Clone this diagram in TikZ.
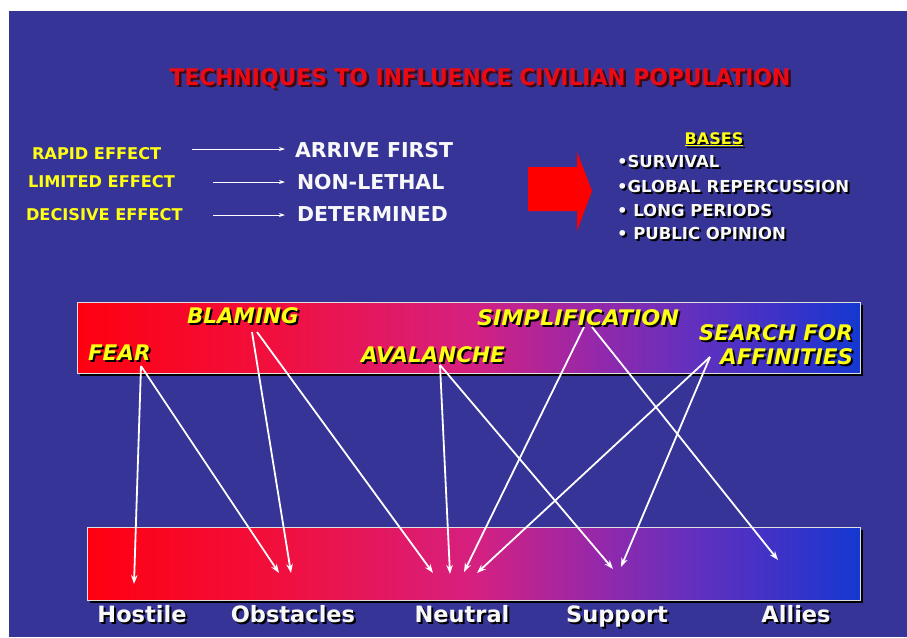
\documentclass[tikz,border=0pt]{standalone}
\usepackage{fontspec}
\setmainfont{DejaVu Sans}
\newfontfamily\condfont{DejaVu Sans Condensed}
\usetikzlibrary{arrows.meta}
\definecolor{bg}{RGB}{54,52,150}
\definecolor{ylw}{RGB}{255,255,20}
\definecolor{ttl}{RGB}{235,10,20}
\definecolor{ttlsh}{RGB}{60,10,20}
\definecolor{wht}{RGB}{248,248,248}
\definecolor{g0}{RGB}{255,0,16}
\definecolor{g1}{RGB}{240,16,64}
\definecolor{g2}{RGB}{214,32,128}
\definecolor{g3}{RGB}{150,40,170}
\definecolor{g4}{RGB}{100,48,190}
\definecolor{g5}{RGB}{60,50,200}
\definecolor{g6}{RGB}{20,56,210}
\pgfdeclarehorizontalshading{techgrad}{100bp}{color(0bp)=(g0); color(25bp)=(g0); color(38bp)=(g1); color(50bp)=(g2); color(58bp)=(g3); color(64bp)=(g4); color(70bp)=(g5); color(75bp)=(g6); color(100bp)=(g6)}
\newcommand\stxt[5]{%
  \node[#3,text=black,shift={(#4)}] (#1s) at (#2) {#5};
  \node[#3] (#1) at (#2) {#5};}
\tikzset{
  every node/.style={inner sep=0pt, outer sep=0pt},
  effect/.style={font=\bfseries\fontsize{16.2}{16}\selectfont, text=ylw, anchor=base west},
  result/.style={font=\bfseries\fontsize{20.5}{20}\selectfont, text=wht, anchor=base west},
  basis/.style={font=\bfseries\fontsize{16.5}{16}\selectfont, text=wht, anchor=base west},
  tech/.style={font=\bfseries\itshape\fontsize{21.5}{22}\selectfont, text=ylw, anchor=base west},
  techr/.style={tech, anchor=base east},
  group/.style={font=\bfseries\fontsize{22.5}{23}\selectfont, text=wht, anchor=base},
  thinarrow/.style={draw=white, line width=0.9pt, -{Stealth[length=6pt,width=4pt]}},
  link/.style={draw=white, line width=1.8pt, -{Stealth[length=9pt,width=6.5pt]}},
  band/.style={shading=techgrad},
}
\begin{document}
\begin{tikzpicture}[x=1pt,y=-1pt]
\useasboundingbox (0,0) rectangle (907,637);
\fill[white] (0,0) rectangle (907,637);
\fill[bg] (9,11) rectangle (907,637);

% title
\node[font=\condfont\bfseries\fontsize{23}{23}\selectfont, text=ttlsh, anchor=base, shift={(2.5,2.5)}] (titles) at (480,85) {\scalebox{1.055}[1]{TECHNIQUES TO INFLUENCE CIVILIAN POPULATION}};
\node[font=\condfont\bfseries\fontsize{23}{23}\selectfont, text=ttl, anchor=base] (title) at (480,85) {\scalebox{1.055}[1]{TECHNIQUES TO INFLUENCE CIVILIAN POPULATION}};

% effects
\node[effect] (rapid) at (32,159) {RAPID EFFECT};
\node[effect] (limited) at (28,187) {LIMITED EFFECT};
\node[effect] (decisive) at (26,220) {DECISIVE EFFECT};
\coordinate (a1s) at (192,149); \coordinate (a1e) at (285,149);
\coordinate (a2s) at (213,182); \coordinate (a2e) at (285,182);
\coordinate (a3s) at (213,215); \coordinate (a3e) at (285,215);
\draw[thinarrow] (a1s) -- (a1e);
\draw[thinarrow] (a2s) -- (a2e);
\draw[thinarrow] (a3s) -- (a3e);
\node[result] (arrive) at (295,157) {ARRIVE FIRST};
\node[result] (nonlethal) at (297,189) {NON-LETHAL};
\node[result] (determined) at (297,221) {DETERMINED};

% red block arrow
\fill[red] (528,167) -- (577,167) -- (577,152) -- (592,191) -- (577,231) -- (577,211) -- (528,211) -- cycle;

% bases
\node[font=\bfseries\fontsize{16}{16}\selectfont, text=black, anchor=base] (basess) at (716,146) {\underline{BASES}};
\node[font=\bfseries\fontsize{16}{16}\selectfont, text=ylw, anchor=base] (bases) at (714,144) {\underline{BASES}};
\stxt{b1}{617,167}{basis}{2,2}{•SURVIVAL}
\stxt{b2}{617,192}{basis}{2,2}{•GLOBAL REPERCUSSION}
\stxt{b3}{617,216}{basis}{2,2}{• LONG PERIODS}
\stxt{b4}{617,239}{basis}{2,2}{• PUBLIC OPINION}

% upper band
\fill[black] (80,305) rectangle (863,376);
\shade[band] (77,302) rectangle (860,373);
\draw[white!75!gray, line width=1pt] (77,302) rectangle (860,373);

% lower band
\fill[black] (90,530) rectangle (863,603);
\shade[band] (87,527) rectangle (860,600);
\draw[white!75!gray, line width=1pt] (87,527) rectangle (860,600);

% techniques
\stxt{fear}{88,360}{tech}{2,2}{FEAR}
\stxt{blaming}{187,323}{tech}{2,2}{BLAMING}
\stxt{avalanche}{361,362}{tech}{2,2}{AVALANCHE}
\stxt{simpl}{477,325}{tech}{2,2}{\scalebox{1.04}[1]{SIMPLIFICATION}}
\stxt{search}{853,340}{techr}{2,2}{SEARCH FOR}
\stxt{affin}{853,364}{techr}{2,2}{AFFINITIES}

% groups
\stxt{hostile}{142,622}{group}{2,2}{Hostile}
\stxt{obstacles}{293,622}{group}{2,2}{Obstacles}
\stxt{neutral}{462,622}{group}{2,2}{Neutral}
\stxt{support}{617,622}{group}{2,2}{Support}
\stxt{allies}{796,622}{group}{2,2}{Allies}

% connector coordinates
\coordinate (fearO) at (141,366);
\coordinate (blamO1) at (252,332);
\coordinate (blamO2) at (257,332);
\coordinate (avalO) at (440,365);
\coordinate (simpO1) at (584,327);
\coordinate (simpO2) at (592,327);
\coordinate (searO) at (710,357);
\coordinate (tHost) at (134,584);
\coordinate (tObs1) at (279,573);
\coordinate (tObs2) at (291,573);
\coordinate (tNeu1) at (433,573);
\coordinate (tNeu2) at (450,574);
\coordinate (tNeu3) at (464,572);
\coordinate (tNeu4) at (477,573);
\coordinate (tSup1) at (613,569);
\coordinate (tSup2) at (621,567);
\coordinate (tAll) at (778,560);

\draw[link] (fearO) -- (tHost);
\draw[link] (fearO) -- (tObs1);
\draw[link] (blamO1) -- (tObs2);
\draw[link] (blamO2) -- (tNeu1);
\draw[link] (avalO) -- (tNeu2);
\draw[link] (avalO) -- (tSup1);
\draw[link] (simpO1) -- (tNeu3);
\draw[link] (simpO2) -- (tAll);
\draw[link] (searO) -- (tNeu4);
\draw[link] (searO) -- (tSup2);
\end{tikzpicture}
\end{document}
